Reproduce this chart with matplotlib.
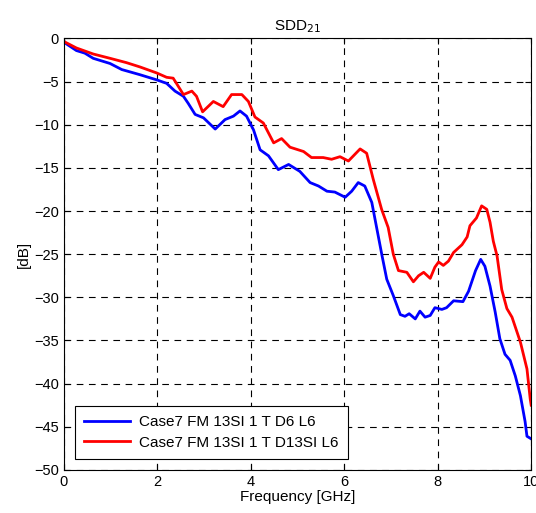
import numpy as np
import matplotlib
matplotlib.use("Agg")
import matplotlib.pyplot as plt

plt.rcParams['font.family'] = ['Liberation Sans', 'DejaVu Sans']

# Frequency [GHz] / magnitude [dB]
f_blue = [0.0, 0.02, 0.27, 0.45, 0.63, 0.99, 1.24, 1.63, 1.99, 2.2, 2.38, 2.56, 2.66,
          2.81, 2.99, 3.24, 3.45, 3.63, 3.77, 3.91, 4.06, 4.2, 4.38, 4.59, 4.81,
          5.05, 5.27, 5.45, 5.63, 5.80, 6.02, 6.16, 6.30, 6.44, 6.59, 6.70, 6.81,
          6.91, 7.05, 7.20, 7.30, 7.39, 7.52, 7.62, 7.73, 7.84, 7.94, 8.09, 8.19,
          8.34, 8.54, 8.66, 8.81, 8.92, 9.01, 9.12, 9.23, 9.33, 9.44, 9.55, 9.66,
          9.77, 9.87, 9.91, 10.0]
db_blue = [-0.3, -0.5, -1.4, -1.7, -2.3, -2.9, -3.6, -4.2, -4.8, -5.2, -6.1, -6.7, -7.5,
           -8.8, -9.2, -10.5, -9.4, -9.0, -8.4, -9.0, -10.6, -12.9, -13.6, -15.2, -14.6,
           -15.4, -16.7, -17.1, -17.7, -17.8, -18.4, -17.7, -16.7, -17.1, -19.0, -22.1, -25.2,
           -27.9, -29.8, -32.0, -32.2, -31.9, -32.5, -31.6, -32.3, -32.1, -31.2, -31.4, -31.2,
           -30.4, -30.5, -29.3, -26.9, -25.6, -26.4, -28.7, -31.7, -34.8, -36.6, -37.3, -39.1,
           -41.4, -44.4, -46.1, -46.4]

f_red = [0.0, 0.02, 0.27, 0.63, 0.99, 1.34, 1.63, 1.99, 2.2, 2.34, 2.41, 2.56, 2.74,
         2.84, 2.97, 3.2, 3.41, 3.59, 3.81, 3.95, 4.09, 4.27, 4.49, 4.66, 4.84,
         5.13, 5.30, 5.55, 5.73, 5.91, 6.09, 6.34, 6.48, 6.62, 6.80, 6.94, 7.05,
         7.16, 7.34, 7.48, 7.59, 7.70, 7.84, 7.94, 8.02, 8.12, 8.23, 8.34, 8.52,
         8.63, 8.69, 8.83, 8.94, 9.05, 9.12, 9.19, 9.27, 9.37, 9.48, 9.59, 9.77,
         9.91, 9.98, 10.0]
db_red = [-0.3, -0.4, -1.1, -1.8, -2.3, -2.8, -3.3, -4.0, -4.5, -4.6, -5.2, -6.5, -6.1,
          -6.7, -8.5, -7.3, -7.9, -6.5, -6.5, -7.3, -9.1, -9.8, -12.1, -11.6, -12.6,
          -13.1, -13.8, -13.8, -14.0, -13.7, -14.2, -12.8, -13.3, -16.3, -19.8, -21.9, -25.0,
          -26.9, -27.1, -28.2, -27.5, -27.1, -27.8, -26.5, -25.9, -26.3, -25.8, -24.8, -23.9,
          -23.0, -21.7, -20.8, -19.4, -19.8, -21.3, -23.5, -25.2, -29.1, -31.3, -32.3, -35.2,
          -38.3, -41.8, -42.5]

labels = ['Case7 FM 13SI 1 T D6 L6', 'Case7 FM 13SI 1 T D13SI L6']

fig = plt.figure(figsize=(5.36, 5.13), dpi=100)
ax = fig.add_axes([0.119, 0.084, 0.872, 0.841])

ax.plot(f_blue, db_blue, color='#0000ff', lw=2, label=labels[0])
ax.plot(f_red, db_red, color='#ff0000', lw=2, label=labels[1])

ax.set_xlim(0, 10)
ax.set_ylim(-50, 0)
ax.set_xticks(np.arange(0, 11, 2))
ax.set_yticks(np.arange(-50, 1, 5))
ax.grid(True, color='black', linestyle=(0, (6, 5)), linewidth=0.8)
ax.tick_params(direction='in', labelsize=10.5, length=4, top=True, right=True)
for s in ax.spines.values():
    s.set_linewidth(0.8)

ax.set_title('SDD$_{21}$', fontsize=11)
ax.set_xlabel('Frequency [GHz]', fontsize=11, labelpad=1)
ax.set_ylabel('[dB]', fontsize=11, labelpad=2)

leg = ax.legend(loc='lower left', bbox_to_anchor=(0.024, 0.026), fontsize=11,
                fancybox=False, framealpha=1, edgecolor='black', borderaxespad=0,
                handlelength=3.0, handletextpad=0.6, borderpad=0.6, labelspacing=0.4)
leg.get_frame().set_linewidth(0.8)

fig.savefig('out.png', dpi=100)
